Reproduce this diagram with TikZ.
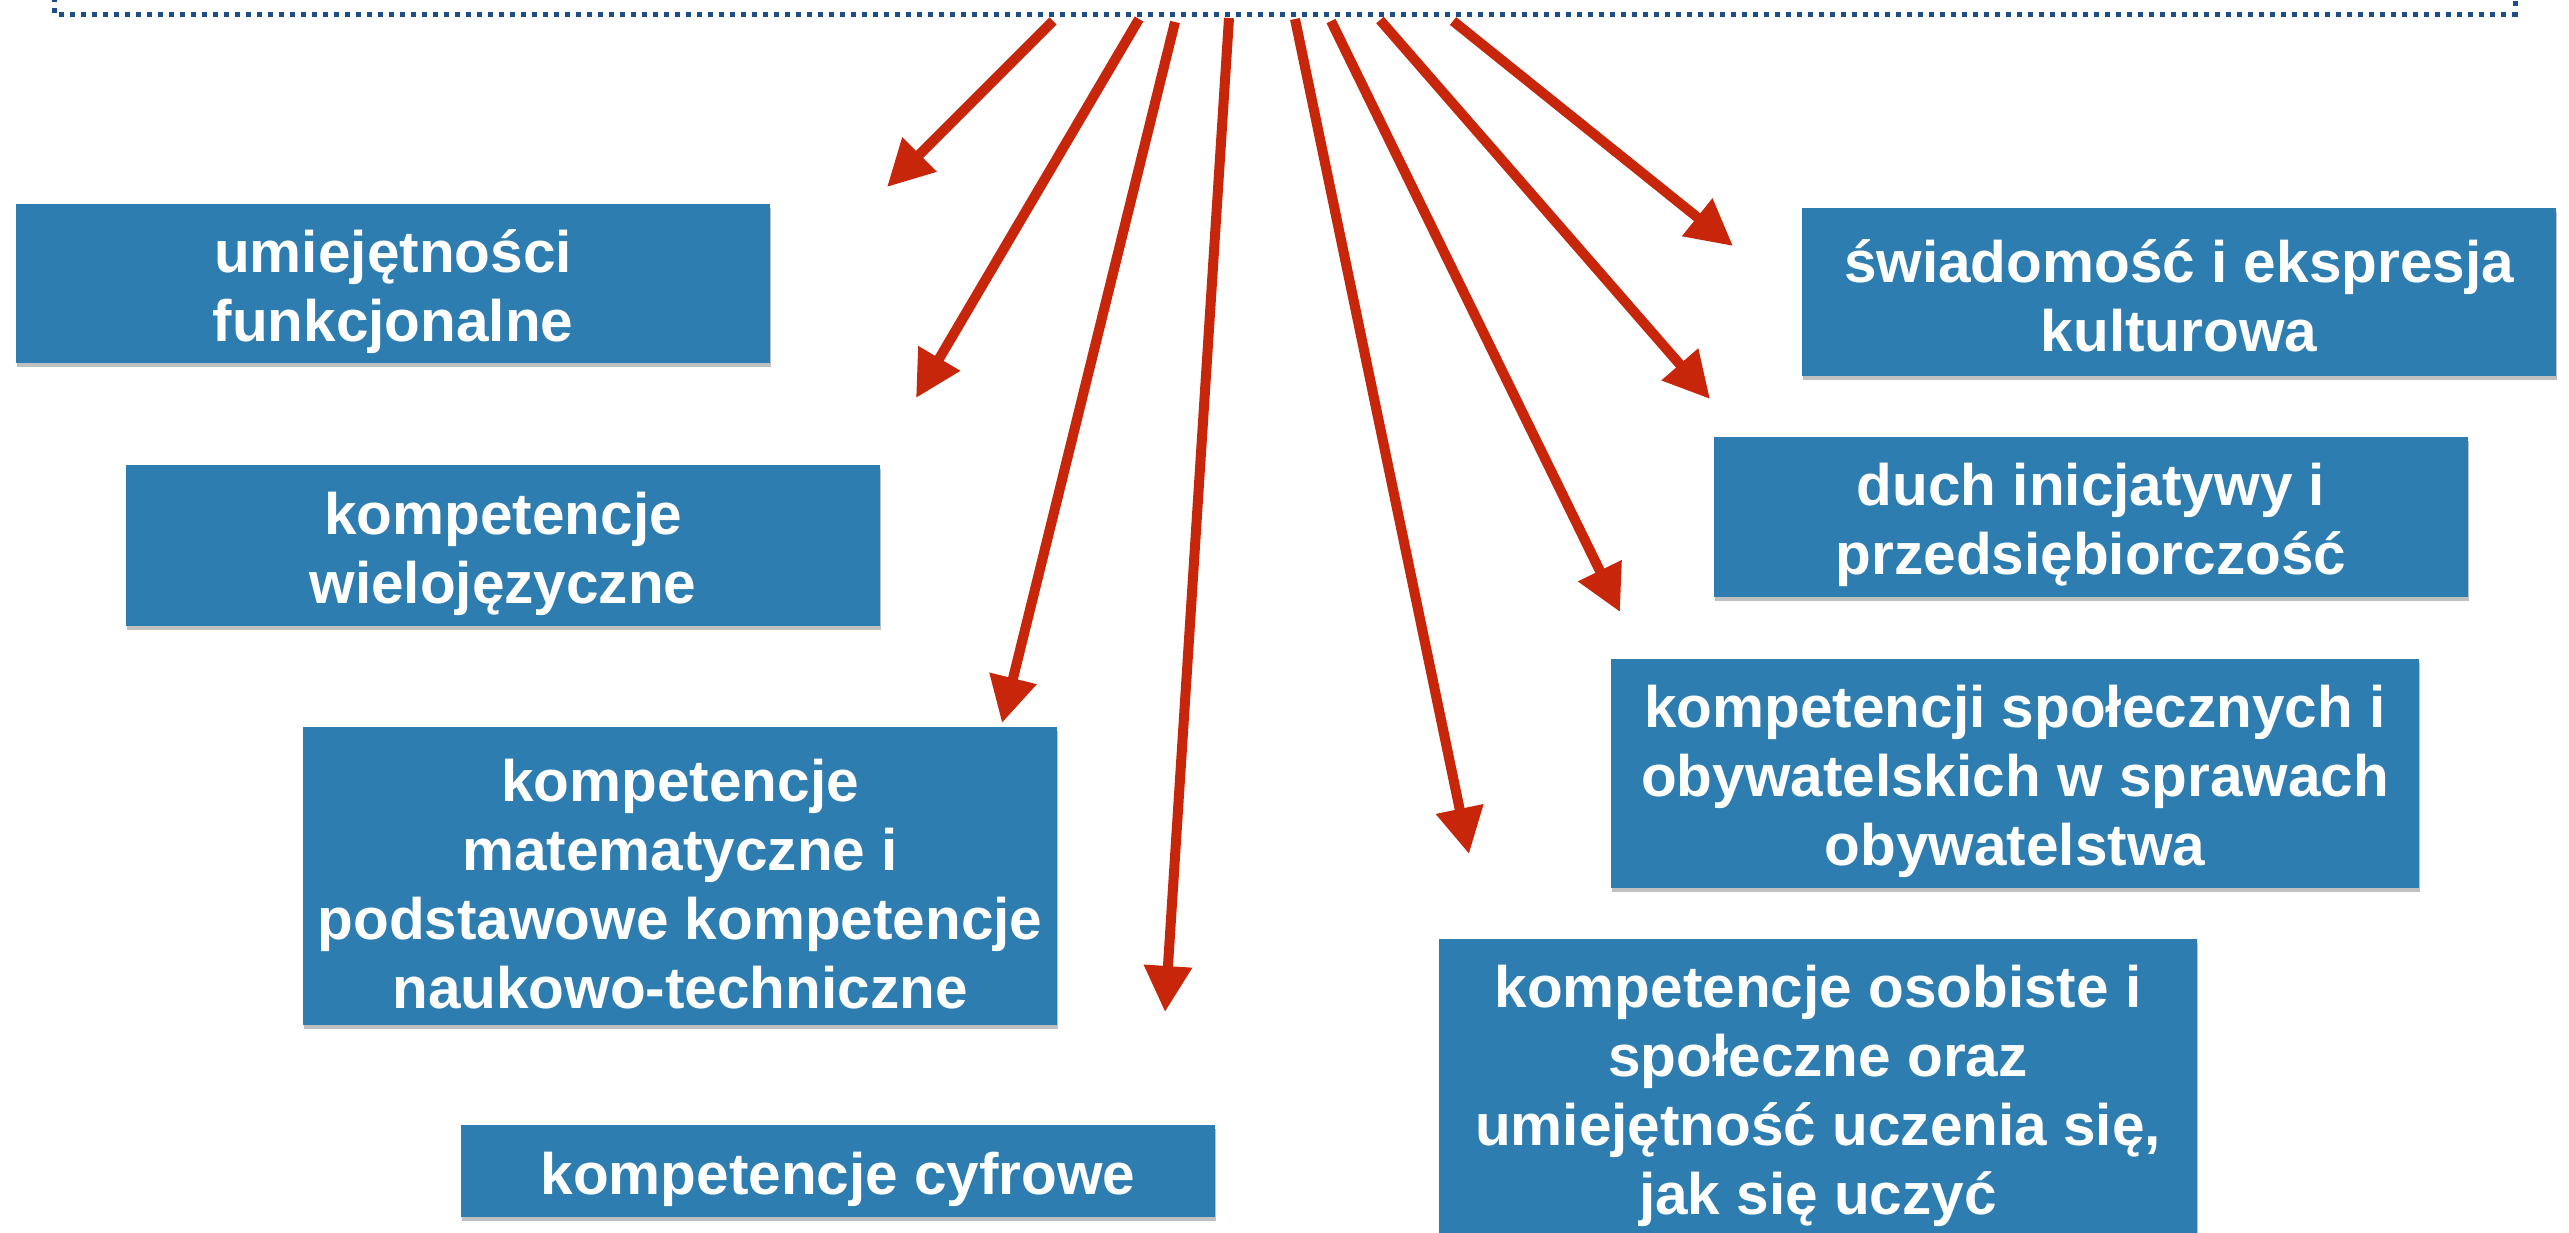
\documentclass[tikz,border=0pt]{standalone}
\usepackage{fontspec}
\setmainfont{Liberation Sans}
\usetikzlibrary{arrows.meta,shadows}
\definecolor{boxblue}{RGB}{46,125,177}
\definecolor{arrowred}{RGB}{200,38,10}
\definecolor{dotblue}{RGB}{30,78,138}
\tikzset{
  kbox/.style={fill=boxblue, inner sep=0pt,
    drop shadow={shadow xshift=1pt, shadow yshift=-4pt, opacity=0.35, fill=black!70}},
  ktext/.style={text=white, inner sep=0pt, align=center,
    font=\fontsize{58.5}{69}\selectfont\bfseries},
  rarrow/.style={draw=arrowred, line width=10pt, -{Triangle[length=46pt,width=46pt]}},
  dotline/.style={draw=dotblue, line width=5pt, dash pattern=on 5pt off 6pt}
}
\newcommand{\kbox}[7][8]{% [text shift], name, x, y, w, h, text
  \node[kbox, minimum width=#5pt, minimum height=#6pt] (#2) at (#3,#4) {};
  \node[ktext] (#2t) at ([yshift=-#1pt]#2.center) {#7};
}
\begin{document}
\begin{tikzpicture}[x=1pt,y=-1pt]
\useasboundingbox (0,0) rectangle (2569,1232);
\clip (0,0) rectangle (2569,1232);
\fill[white] (0,0) rectangle (2569,1232);
% dotted frame bottom
\coordinate (dl0) at (54,-3);
\coordinate (dl1) at (54,14);
\coordinate (dr1) at (2515,14);
\coordinate (dr0) at (2515,-3);
\draw[dotline] (dl0) -- (dl1) -- (dr1) -- (dr0);
% boxes
\kbox{b1}{393}{283.5}{754}{159}{umiejętności\\funkcjonalne}
\kbox{b2}{503}{545.5}{754}{161}{kompetencje\\wielojęzyczne}
\kbox{b3}{680}{876}{754}{298}{kompetencje\\matematyczne i\\podstawowe kompetencje\\naukowo-techniczne}
\kbox{b4}{838}{1171}{754}{92}{kompetencje cyfrowe}
\kbox[4]{b5}{2179}{292}{754}{168}{świadomość i ekspresja\\kulturowa}
\kbox{b6}{2091}{517}{754}{160}{duch inicjatywy i\\przedsiębiorczość}
\kbox{b7}{2015}{773.5}{808}{229}{kompetencji społecznych i\\obywatelskich w sprawach\\obywatelstwa}
\kbox{b8}{1818}{1088}{758}{298}{kompetencje osobiste i\\społeczne oraz\\umiejętność uczenia się,\\jak się uczyć}
% arrow ends
\coordinate (s1) at (1053,21);  \coordinate (t1) at (887,187);
\coordinate (s2) at (1139,19);  \coordinate (t2) at (916,398);
\coordinate (s3) at (1175,22);  \coordinate (t3) at (1002,723);
\coordinate (s4) at (1229,18);  \coordinate (t4) at (1165,1012);
\coordinate (s5) at (1295,19);  \coordinate (t5) at (1469,854);
\coordinate (s6) at (1331,21);  \coordinate (t6) at (1620,612);
\coordinate (s7) at (1380,20);  \coordinate (t7) at (1710,399);
\coordinate (s8) at (1453,21);  \coordinate (t8) at (1733,246);
\foreach \i in {1,...,8} { \draw[rarrow] (s\i) -- (t\i); }
\end{tikzpicture}
\end{document}
